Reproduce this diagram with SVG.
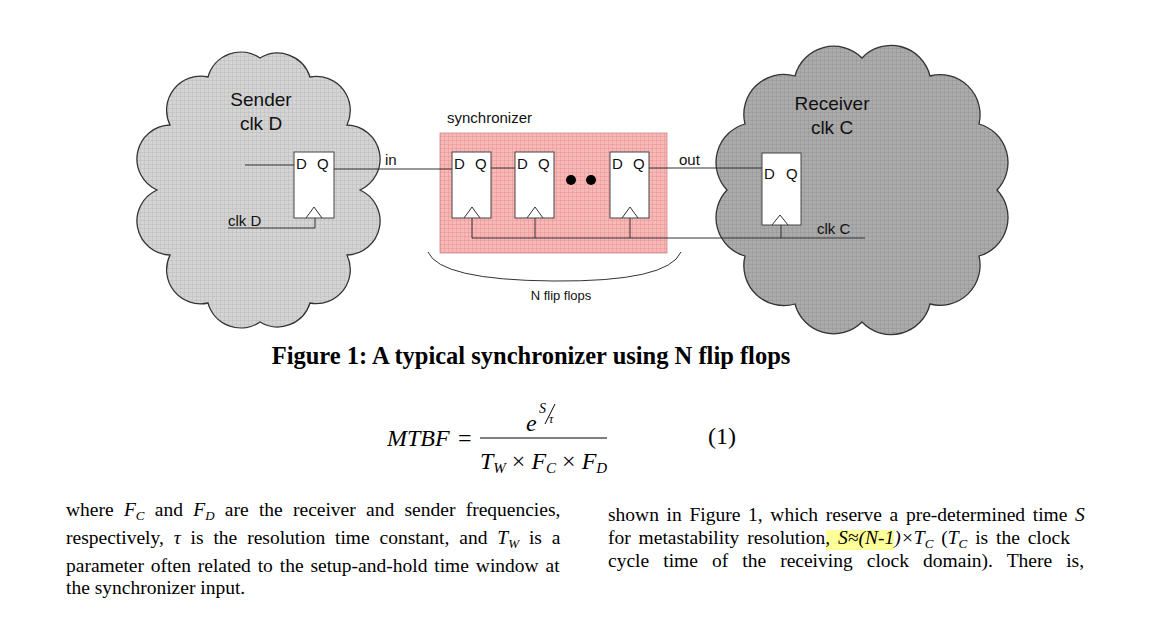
<svg xmlns="http://www.w3.org/2000/svg" width="1174" height="621" viewBox="0 0 1174 621">
<defs>
<pattern id="gridL" width="4" height="4" patternUnits="userSpaceOnUse"><rect width="4" height="4" fill="#d4d4d4"/><path d="M0 0H4M0 0V4" stroke="#b8b8b8" stroke-width="0.8"/></pattern>
<pattern id="gridD" width="4" height="4" patternUnits="userSpaceOnUse"><rect width="4" height="4" fill="#ababab"/><path d="M0 0H4M0 0V4" stroke="#8f8f8f" stroke-width="0.8"/></pattern>
<pattern id="gridP" width="4" height="4" patternUnits="userSpaceOnUse"><rect width="4" height="4" fill="#f7b8b8"/><path d="M0 0H4M0 0V4" stroke="#e88a8a" stroke-width="0.8"/></pattern>
<style>
.cl{stroke:#333;stroke-width:1.3}
.ff{fill:#fff;stroke:#444;stroke-width:1}
.w{fill:none;stroke:#333;stroke-width:1}
.s{font-family:"Liberation Sans",Arial,sans-serif;fill:#111}
.t{font-family:"Liberation Serif","Times New Roman",serif;fill:#000;font-size:19.5px}
.i{font-style:italic}
</style>
</defs>
<g id="sender">
<path class="cl" fill="url(#gridL)" d="M360,190 A34,34 0 0 0 347,125 A34,34 0 0 0 310,77 A34,34 0 0 0 260,58 A34,34 0 0 0 208,77 A34,34 0 0 0 170,125 A34,34 0 0 0 157,190 A34,34 0 0 0 170,255 A34,34 0 0 0 208,303 A34,34 0 0 0 260,322 A34,34 0 0 0 310,303 A34,34 0 0 0 347,255 A34,34 0 0 0 360,190Z"/>
<text class="s" x="261" y="106" font-size="19" text-anchor="middle">Sender</text>
<text class="s" x="261" y="130" font-size="19" text-anchor="middle">clk D</text>
<rect class="ff" x="294" y="152" width="40" height="66"/>
<path class="w" d="M306,218 L314,207 L322,218"/>
<text class="s" x="296" y="169" font-size="15">D</text><text class="s" x="317" y="169" font-size="15">Q</text>
<text class="s" x="228" y="226" font-size="15">clk D</text>
</g>
<g id="receiver">
<path class="cl" fill="url(#gridD)" d="M997,190 A40,40 0 0 0 979,124 A40,40 0 0 0 930,76 A40,40 0 0 0 862,58 A40,40 0 0 0 795,76 A40,40 0 0 0 745,124 A40,40 0 0 0 727,190 A40,40 0 0 0 745,256 A40,40 0 0 0 795,304 A40,40 0 0 0 862,322 A40,40 0 0 0 930,304 A40,40 0 0 0 979,256 A40,40 0 0 0 997,190Z"/>
<text class="s" x="832" y="110" font-size="19" text-anchor="middle">Receiver</text>
<text class="s" x="832" y="134" font-size="19" text-anchor="middle">clk C</text>
<rect class="ff" x="762" y="153" width="39" height="72"/>
<path class="w" d="M772,225 L780,215 L788,225"/>
<text class="s" x="764" y="179" font-size="15">D</text><text class="s" x="786" y="179" font-size="15">Q</text>
<text class="s" x="817" y="234" font-size="15">clk C</text>
</g>
<g id="synchronizer">
<rect x="440" y="133" width="227" height="120" fill="url(#gridP)" stroke="#c88" stroke-width="0.8"/>
<text class="s" x="447" y="123" font-size="15">synchronizer</text>
<rect class="ff" x="452" y="152" width="39" height="66"/>
<rect class="ff" x="515" y="152" width="39" height="66"/>
<rect class="ff" x="610" y="152" width="39" height="66"/>
<path class="w" d="M464,218 L472,207 L480,218 M527,218 L535,207 L543,218 M622,218 L630,207 L638,218"/>
<text class="s" x="454" y="169" font-size="15">D</text><text class="s" x="475" y="169" font-size="15">Q</text>
<text class="s" x="517" y="169" font-size="15">D</text><text class="s" x="538" y="169" font-size="15">Q</text>
<text class="s" x="612" y="169" font-size="15">D</text><text class="s" x="633" y="169" font-size="15">Q</text>
<circle cx="571" cy="180" r="5" fill="#000"/>
<circle cx="591" cy="180" r="5" fill="#000"/>
<path class="w" d="M428,252 Q440,280 553,281 Q668,282 681,252"/>
<text class="s" x="561" y="300" font-size="13" text-anchor="middle">N flip flops</text>
</g>
<g id="connectors" fill="none" stroke="#333" stroke-width="1">
<path d="M245,165 H294"/>
<path d="M228,228 H315 V218"/>
<path d="M334,169 H452"/>
<path d="M491,168 H515"/>
<path d="M649,168 H762"/>
<path d="M472,218 V238 H865 M535,218 V238 M630,218 V238 M781,225 V238"/>
</g>
<text class="s" x="385" y="165" font-size="15">in</text>
<text class="s" x="679" y="165" font-size="15">out</text>
<text x="531" y="364" font-family="Liberation Serif,serif" font-weight="bold" font-size="24.5" text-anchor="middle">Figure 1: A typical synchronizer using N flip flops</text>
<g id="formula" font-family="Liberation Serif,serif" font-size="24">
<text x="387" y="446" class="i">MTBF</text>
<text x="458" y="446">=</text>
<line x1="480" y1="438" x2="607" y2="438" stroke="#000" stroke-width="1.2"/>
<text x="526" y="431" class="i">e</text>
<text x="539" y="413" class="i" font-size="14">S</text>
<path d="M545,424 L555,404" stroke="#000" stroke-width="1" fill="none"/>
<text x="549" y="423" class="i" font-size="12">τ</text>
<text x="480" y="469" class="i">T<tspan font-size="15" dy="4">W</tspan><tspan dy="-4" font-style="normal"> × </tspan>F<tspan font-size="15" dy="4">C</tspan><tspan dy="-4" font-style="normal"> × </tspan>F<tspan font-size="15" dy="4">D</tspan></text>
<text x="708" y="444">(1)</text>
</g>
<rect x="826" y="530" width="68" height="20" fill="#ffff99"/>
<g id="text" class="t">
<text x="66" y="516" word-spacing="5.4">where <tspan class="i">F</tspan><tspan font-size="13" dy="4" class="i">C</tspan><tspan dy="-4"> and </tspan><tspan class="i">F</tspan><tspan font-size="13" dy="4" class="i">D</tspan><tspan dy="-4"> are the receiver and sender frequencies,</tspan></text>
<text x="66" y="544" word-spacing="5">respectively, <tspan class="i">τ</tspan> is the resolution time constant, and <tspan class="i">T</tspan><tspan font-size="13" dy="4" class="i">W</tspan><tspan dy="-4"> is a</tspan></text>
<text x="66" y="572" word-spacing="2">parameter often related to the setup-and-hold time window at</text>
<text x="66" y="594">the synchronizer input.</text>
<text x="608" y="521" word-spacing="2.8">shown in Figure 1, which reserve a pre-determined time <tspan class="i">S</tspan></text>
<text x="608" y="544" word-spacing="3">for metastability resolution, <tspan class="i">S≈(N-1)×T</tspan><tspan font-size="13" dy="4" class="i">C</tspan><tspan dy="-4">  (</tspan><tspan class="i">T</tspan><tspan font-size="13" dy="4" class="i">C</tspan><tspan dy="-4"> is the clock</tspan></text>
<text x="608" y="567" word-spacing="9.2">cycle time of the receiving clock domain). There is,</text>
</g>
</svg>
